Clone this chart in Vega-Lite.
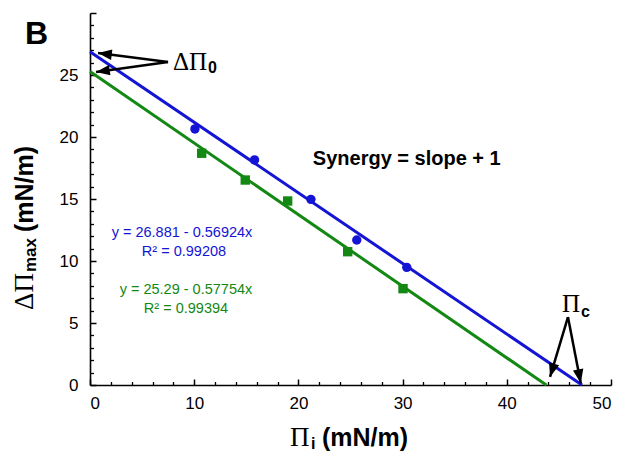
{
  "$schema": "https://vega.github.io/schema/vega-lite/v6.json",
  "width": 521,
  "height": 372,
  "autosize": {"type": "none"},
  "padding": {"left": 90, "top": 13, "right": 10, "bottom": 66},
  "background": "white",
  "config": {
    "view": {"stroke": null},
    "axis": {"grid": false, "domainColor": "black", "tickColor": "black", "labelColor": "black", "labelFont": "Liberation Sans", "labelFontSize": 17, "title": null}
  },
  "datasets": {
    "pts": [
      {"series": "blue", "x": 10.07, "y": 20.65},
      {"series": "blue", "x": 15.79, "y": 18.15},
      {"series": "blue", "x": 21.2, "y": 14.97},
      {"series": "blue", "x": 25.6, "y": 11.69},
      {"series": "blue", "x": 30.4, "y": 9.49},
      {"series": "green", "x": 10.72, "y": 18.69},
      {"series": "green", "x": 14.9, "y": 16.53},
      {"series": "green", "x": 18.97, "y": 14.84},
      {"series": "green", "x": 24.73, "y": 10.75},
      {"series": "green", "x": 30.04, "y": 7.77}
    ],
    "fits": [
      {"series": "blue", "x": 0, "y": 26.881},
      {"series": "blue", "x": 47.22, "y": 0},
      {"series": "green", "x": 0, "y": 25.29},
      {"series": "green", "x": 43.79, "y": 0}
    ],
    "arrows": [
      {"x": 7.49, "y": 26.05, "x2": 0.77, "y2": 26.77, "angle": 277},
      {"x": 7.49, "y": 26.05, "x2": 0.58, "y2": 25.24, "angle": 262},
      {"x": 45.87, "y": 5.48, "x2": 44.15, "y2": 0.65, "angle": 197},
      {"x": 45.87, "y": 5.48, "x2": 47.1, "y2": 0.15, "angle": 169}
    ],
    "serif": [
      {"x": 7.97, "y": 26.05, "text": "ΔΠ"},
      {"x": 45.3, "y": 6.53, "text": "Π"}
    ],
    "xtitle_serif": [
      {"x": 19.19, "y": -4.27, "text": "Π"}
    ],
    "subs": [
      {"x": 11.32, "y": 25.56, "text": "0"},
      {"x": 47.12, "y": 5.89, "text": "c"},
      {"x": 21.2, "y": -4.76, "text": "i"}
    ],
    "units": [
      {"x": 22.26, "y": -4.27, "text": "(mN/m)"}
    ],
    "eqs": [
      {"series": "blue", "x": 8.83, "y": 12.26, "text": "y = 26.881 - 0.56924x"},
      {"series": "blue", "x": 9.02, "y": 10.73, "text": "R² = 0.99208"},
      {"series": "green", "x": 9.21, "y": 7.66, "text": "y = 25.29 - 0.57754x"},
      {"series": "green", "x": 9.21, "y": 6.13, "text": "R² = 0.99394"}
    ],
    "note": [
      {"x": 30.4, "y": 18.23, "text": "Synergy = slope + 1"}
    ],
    "panel": [
      {"x": -5.13, "y": 28.31, "text": "B"}
    ],
    "ytitle_serif": [{"x": -6.24, "y": 6.05, "text": "ΔΠ"}],
    "ytitle_sub": [{"x": -5.66, "y": 9.11, "text": "max"}],
    "ytitle_units": [{"x": -6.24, "y": 12.34, "text": "(mN/m)"}]
  },
  "resolve": {"axis": {"x": "independent", "y": "independent"}},
  "layer": [
    {
      "data": {"name": "fits"},
      "mark": {"type": "line", "strokeWidth": 3, "clip": false},
      "encoding": {
        "x": {"field": "x", "type": "quantitative", "scale": {"domain": [0, 50], "nice": false, "zero": false},
              "axis": {"orient": "bottom", "values": [0, 10, 20, 30, 40, 50], "tickSize": -6, "tickWidth": 1.5, "domainWidth": 1.6, "labelPadding": 16, "title": null}},
        "y": {"field": "y", "type": "quantitative", "scale": {"domain": [0, 30], "nice": false, "zero": false},
              "axis": {"orient": "left", "values": [0, 5, 10, 15, 20, 25, 30], "labelExpr": "datum.value == 30 ? '' : datum.label", "tickSize": -6, "tickWidth": 1.5, "domainWidth": 1.6, "labelPadding": 18, "title": null}},
        "color": {"field": "series", "type": "nominal", "scale": {"domain": ["blue", "green"], "range": ["#1414d4", "#138813"]}, "legend": null},
        "detail": {"field": "series"}
      }
    },
    {
      "data": {"name": "pts"},
      "mark": {"type": "point", "filled": true, "opacity": 1, "size": 88},
      "encoding": {
        "x": {"field": "x", "type": "quantitative",
              "axis": {"orient": "bottom", "values": [2, 4, 6, 8, 12, 14, 16, 18, 22, 24, 26, 28, 32, 34, 36, 38, 42, 44, 46, 48], "tickSize": -3.5, "tickWidth": 1.3, "labels": false, "domain": false, "title": null}},
        "y": {"field": "y", "type": "quantitative",
              "axis": {"orient": "left", "values": [1, 2, 3, 4, 6, 7, 8, 9, 11, 12, 13, 14, 16, 17, 18, 19, 21, 22, 23, 24, 26, 27, 28, 29], "tickSize": -3.5, "tickWidth": 1.3, "labels": false, "domain": false, "title": null}},
        "color": {"field": "series", "type": "nominal", "legend": null},
        "shape": {"field": "series", "type": "nominal", "scale": {"domain": ["blue", "green"], "range": ["circle", "square"]}, "legend": null}
      }
    },
    {
      "data": {"name": "arrows"},
      "mark": {"type": "rule", "color": "black", "strokeWidth": 2.5},
      "encoding": {
        "x": {"field": "x", "type": "quantitative", "axis": null},
        "y": {"field": "y", "type": "quantitative", "axis": null},
        "x2": {"field": "x2"},
        "y2": {"field": "y2"}
      }
    },
    {
      "data": {"name": "arrows"},
      "mark": {"type": "point", "shape": "M0,0L-0.38,1L0.38,1Z", "filled": true, "color": "black", "opacity": 1, "size": 760},
      "encoding": {
        "x": {"field": "x2", "type": "quantitative", "axis": null},
        "y": {"field": "y2", "type": "quantitative", "axis": null},
        "angle": {"field": "angle", "type": "quantitative", "scale": null}
      }
    },
    {
      "data": {"name": "serif"},
      "mark": {"type": "text", "font": "Liberation Serif", "fontSize": 25, "align": "left", "baseline": "middle", "color": "black"},
      "encoding": {
        "x": {"field": "x", "type": "quantitative", "axis": null},
        "y": {"field": "y", "type": "quantitative", "axis": null},
        "text": {"field": "text"}
      }
    },
    {
      "data": {"name": "xtitle_serif"},
      "mark": {"type": "text", "font": "Liberation Serif", "fontSize": 27, "align": "left", "baseline": "middle", "color": "black"},
      "encoding": {
        "x": {"field": "x", "type": "quantitative", "axis": null},
        "y": {"field": "y", "type": "quantitative", "axis": null},
        "text": {"field": "text"}
      }
    },
    {
      "data": {"name": "subs"},
      "mark": {"type": "text", "font": "Liberation Sans", "fontWeight": "bold", "fontSize": 16, "align": "left", "baseline": "middle", "color": "black"},
      "encoding": {
        "x": {"field": "x", "type": "quantitative", "axis": null},
        "y": {"field": "y", "type": "quantitative", "axis": null},
        "text": {"field": "text"}
      }
    },
    {
      "data": {"name": "units"},
      "mark": {"type": "text", "font": "Liberation Sans", "fontWeight": "bold", "fontSize": 25, "align": "left", "baseline": "middle", "color": "black"},
      "encoding": {
        "x": {"field": "x", "type": "quantitative", "axis": null},
        "y": {"field": "y", "type": "quantitative", "axis": null},
        "text": {"field": "text"}
      }
    },
    {
      "data": {"name": "eqs"},
      "mark": {"type": "text", "font": "Liberation Sans", "fontSize": 14.5, "align": "center", "baseline": "middle"},
      "encoding": {
        "x": {"field": "x", "type": "quantitative", "axis": null},
        "y": {"field": "y", "type": "quantitative", "axis": null},
        "text": {"field": "text"},
        "color": {"field": "series", "type": "nominal", "legend": null}
      }
    },
    {
      "data": {"name": "note"},
      "mark": {"type": "text", "font": "Liberation Sans", "fontWeight": "bold", "fontSize": 20, "align": "center", "baseline": "middle", "color": "black"},
      "encoding": {
        "x": {"field": "x", "type": "quantitative", "axis": null},
        "y": {"field": "y", "type": "quantitative", "axis": null},
        "text": {"field": "text"}
      }
    },
    {
      "data": {"name": "panel"},
      "mark": {"type": "text", "font": "Liberation Sans", "fontWeight": "bold", "fontSize": 32, "align": "center", "baseline": "middle", "color": "black"},
      "encoding": {
        "x": {"field": "x", "type": "quantitative", "axis": null},
        "y": {"field": "y", "type": "quantitative", "axis": null},
        "text": {"field": "text"}
      }
    },
    {
      "data": {"name": "ytitle_serif"},
      "mark": {"type": "text", "font": "Liberation Serif", "fontSize": 27, "align": "left", "baseline": "middle", "angle": 270, "color": "black"},
      "encoding": {
        "x": {"field": "x", "type": "quantitative", "axis": null},
        "y": {"field": "y", "type": "quantitative", "axis": null},
        "text": {"field": "text"}
      }
    },
    {
      "data": {"name": "ytitle_sub"},
      "mark": {"type": "text", "font": "Liberation Sans", "fontWeight": "bold", "fontSize": 17, "align": "left", "baseline": "middle", "angle": 270, "color": "black"},
      "encoding": {
        "x": {"field": "x", "type": "quantitative", "axis": null},
        "y": {"field": "y", "type": "quantitative", "axis": null},
        "text": {"field": "text"}
      }
    },
    {
      "data": {"name": "ytitle_units"},
      "mark": {"type": "text", "font": "Liberation Sans", "fontWeight": "bold", "fontSize": 25, "align": "left", "baseline": "middle", "angle": 270, "color": "black"},
      "encoding": {
        "x": {"field": "x", "type": "quantitative", "axis": null},
        "y": {"field": "y", "type": "quantitative", "axis": null},
        "text": {"field": "text"}
      }
    }
  ]
}
